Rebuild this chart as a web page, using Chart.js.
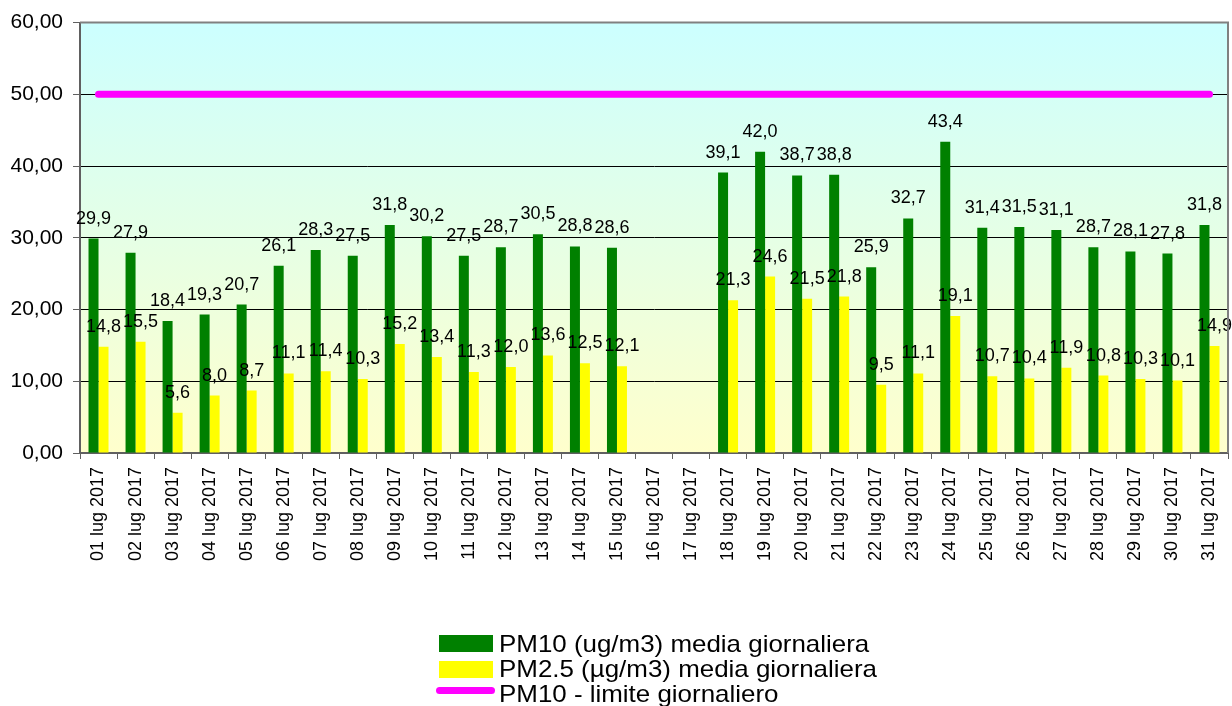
<!DOCTYPE html>
<html>
<head>
<meta charset="utf-8">
<script src="https://cdn.jsdelivr.net/npm/chart.js@4"></script>
<style>
  body { margin: 0; background: #fff; }
  #wrap { position: relative; width: 1232px; height: 706px; overflow: hidden; }
  .leg { position: absolute; font-family: "Liberation Sans", Arial, sans-serif; font-size: 24px; line-height: 24px; color: #000; white-space: nowrap; transform: scaleX(1.08); transform-origin: left top; }
  .box { position: absolute; width: 54px; height: 17px; }
  .ln { position: absolute; width: 59px; height: 7px; border-radius: 4px; background: #ff00ff; }
</style>
</head>
<body>
<div id="wrap">
  <canvas id="pm" width="1232" height="706"></canvas>
  <div class="box" style="left:439px;top:635px;background:#008000"></div>
  <div class="leg" style="left:499px;top:632px">PM10 (ug/m3) media giornaliera</div>
  <div class="box" style="left:439px;top:661px;background:#ffff00"></div>
  <div class="leg" style="left:499px;top:657px">PM2.5 (µg/m3) media giornaliera</div>
  <div class="ln" style="left:436px;top:687px"></div>
  <div class="leg" style="left:499px;top:682px">PM10 - limite giornaliero</div>
</div>
<script>
const days = ["01 lug 2017","02 lug 2017","03 lug 2017","04 lug 2017","05 lug 2017","06 lug 2017","07 lug 2017","08 lug 2017","09 lug 2017","10 lug 2017","11 lug 2017","12 lug 2017","13 lug 2017","14 lug 2017","15 lug 2017","16 lug 2017","17 lug 2017","18 lug 2017","19 lug 2017","20 lug 2017","21 lug 2017","22 lug 2017","23 lug 2017","24 lug 2017","25 lug 2017","26 lug 2017","27 lug 2017","28 lug 2017","29 lug 2017","30 lug 2017","31 lug 2017"];
const pm10 = [29.9,27.9,18.4,19.3,20.7,26.1,28.3,27.5,31.8,30.2,27.5,28.7,30.5,28.8,28.6,null,null,39.1,42.0,38.7,38.8,25.9,32.7,43.4,31.4,31.5,31.1,28.7,28.1,27.8,31.8];
const pm25 = [14.8,15.5,5.6,8.0,8.7,11.1,11.4,10.3,15.2,13.4,11.3,12.0,13.6,12.5,12.1,null,null,21.3,24.6,21.5,21.8,9.5,11.1,19.1,10.7,10.4,11.9,10.8,10.3,10.1,14.9];
const limit = days.map(() => 50);

const FONT = "'Liberation Sans', Arial, sans-serif";

// gradient background + grey frame
const bgPlugin = {
  id: "bg",
  beforeDraw(chart) {
    const { ctx, chartArea: a } = chart;
    const g = ctx.createLinearGradient(0, a.top, 0, a.bottom);
    g.addColorStop(0, "#ccffff");
    g.addColorStop(1, "#ffffcc");
    ctx.save();
    ctx.fillStyle = g;
    ctx.fillRect(a.left, a.top, a.right - a.left, a.bottom - a.top);
    ctx.restore();
  },
  afterDraw(chart) {
    const { ctx, chartArea: a } = chart;
    ctx.save();
    ctx.strokeStyle = "#808080";
    ctx.lineWidth = 2;
    ctx.beginPath();
    ctx.moveTo(a.left, a.top);
    ctx.lineTo(a.right, a.top);
    ctx.lineTo(a.right, a.bottom);
    ctx.stroke();
    ctx.restore();
  }
};

// value labels over the bars
const labelPlugin = {
  id: "vals",
  afterDatasetsDraw(chart) {
    const { ctx } = chart;
    ctx.save();
    ctx.font = "18px " + FONT;
    ctx.fillStyle = "#000";
    ctx.textAlign = "center";
    ctx.textBaseline = "alphabetic";
    [0, 1].forEach(i => {
      const ds = chart.data.datasets[i];
      chart.getDatasetMeta(i).data.forEach((el, j) => {
        const v = ds.data[j];
        if (v == null) return;
        ctx.fillText(v.toFixed(1).replace(".", ","), el.x, el.y - 15);
      });
    });
    ctx.restore();
  }
};

new Chart("pm", {
  type: "bar",
  data: {
    labels: days,
    datasets: [{
      label: "PM10 (ug/m3) media giornaliera",
      data: pm10,
      backgroundColor: "#008000",
      categoryPercentage: 0.54,
      barPercentage: 1,
      order: 2
    }, {
      label: "PM2.5 (µg/m3) media giornaliera",
      data: pm25,
      backgroundColor: "#ffff00",
      categoryPercentage: 0.54,
      barPercentage: 1,
      order: 2
    }, {
      type: "line",
      label: "PM10 - limite giornaliero",
      data: limit,
      borderColor: "#ff00ff",
      borderWidth: 7,
      borderCapStyle: "round",
      pointRadius: 0,
      fill: false,
      order: 1
    }]
  },
  options: {
    responsive: false,
    animation: false,
    layout: { padding: { top: 22, right: 4, left: 0, bottom: 0 } },
    plugins: {
      legend: { display: false },
      tooltip: { enabled: false }
    },
    scales: {
      x: {
        afterFit(s) {
          s.height = 706 - 453;
          s.paddingLeft = 0;
          s.paddingRight = 0;
        },
        grid: { drawOnChartArea: false, drawTicks: true, tickLength: 6, tickColor: "#606060", offset: true },
        border: { color: "#606060", width: 2 },
        ticks: {
          color: "#000",
          font: { family: FONT, size: 18 },
          minRotation: 90,
          maxRotation: 90,
          autoSkip: false,
          padding: 8
        }
      },
      y: {
        min: 0,
        max: 60,
        afterFit(s) { s.width = 80; },
        grid: {
          color: ctx => (ctx.tick.value === 0 || ctx.tick.value === 60) ? "rgba(0,0,0,0)" : "#000",
          lineWidth: 1,
          tickLength: 7,
          tickColor: "#606060"
        },
        border: { color: "#606060", width: 2 },
        ticks: {
          stepSize: 10,
          color: "#000",
          font: { family: FONT, size: 21 },
          padding: 10,
          callback: v => v.toFixed(2).replace(".", ",")
        }
      }
    }
  },
  plugins: [bgPlugin, labelPlugin]
});
</script>
</body>
</html>
